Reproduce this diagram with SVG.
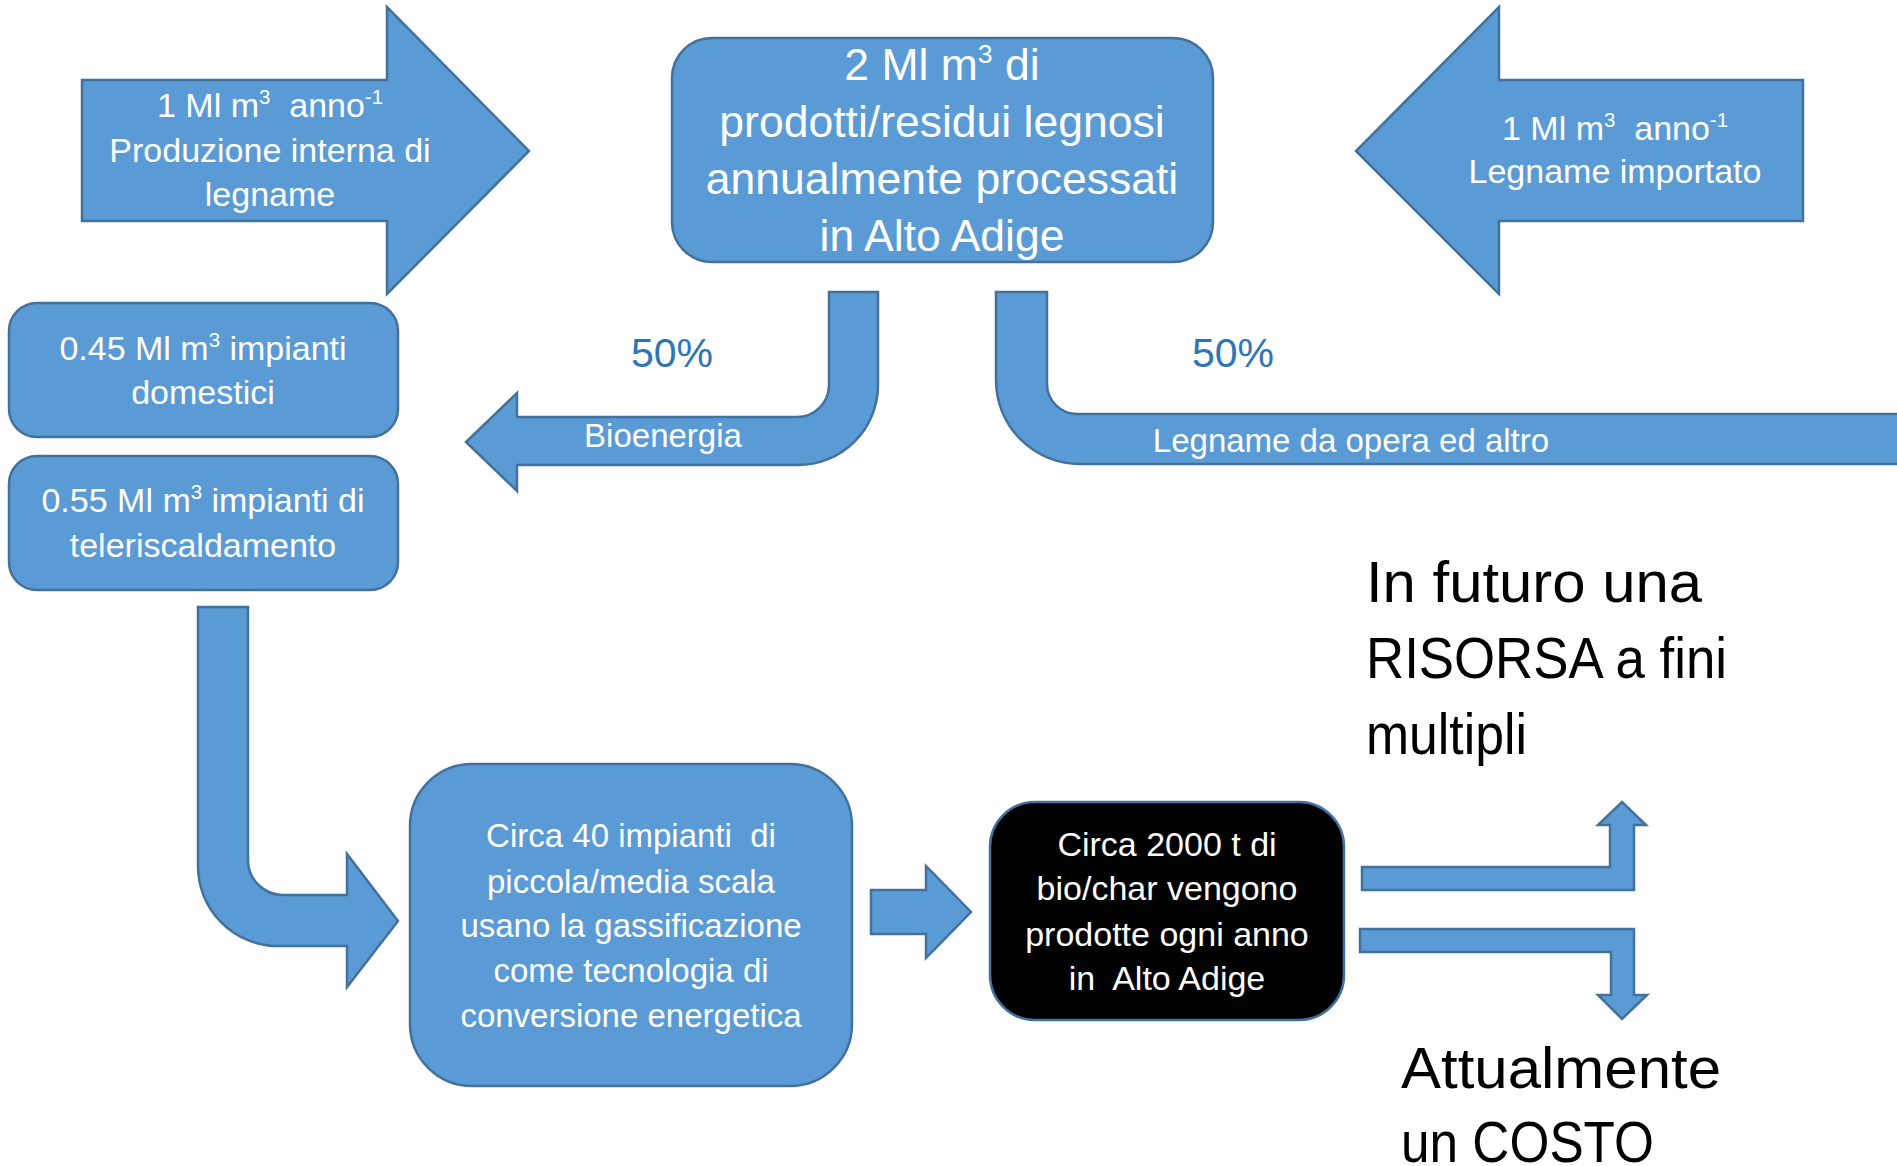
<svg xmlns="http://www.w3.org/2000/svg" width="1897" height="1166" viewBox="0 0 1897 1166">
<style>
.shape{fill:#5B9BD5;stroke:#41719C;stroke-width:2.5;stroke-linejoin:miter}
.dark{fill:#000000;stroke:#41719C;stroke-width:2.5}
text{font-family:"Liberation Sans",Arial,sans-serif;text-anchor:middle;white-space:pre}
.w{fill:#FFFFFF}
.t34{font-size:34px}
.t33{font-size:33px}
.t44{font-size:44.5px}
.pct{font-size:41px;fill:#2E75B6}
.big{font-size:57px;fill:#000000;text-anchor:start}
.sup{font-size:60%}
</style>
<rect width="1897" height="1166" fill="#FFFFFF"/>

<g id="arrow-internal">
<path class="shape" d="M82,80 H387 V7 L529,151 L387,294 V221 H82 Z"/>
<text class="w t34"><tspan x="270" y="117">1 Ml m<tspan class="sup" dy="-13">3</tspan><tspan dy="13">  anno</tspan><tspan class="sup" dy="-13">-1</tspan></tspan><tspan x="270" y="162">Produzione interna di</tspan><tspan x="270" y="206">legname</tspan></text>
</g>

<g id="central-box">
<rect class="shape" x="672" y="38" width="541" height="224" rx="40" ry="40"/>
<text class="w t44"><tspan x="942" y="80">2 Ml m<tspan class="sup" dy="-17">3</tspan><tspan dy="17"> di</tspan></tspan><tspan x="942" y="137">prodotti/residui legnosi</tspan><tspan x="942" y="194">annualmente processati</tspan><tspan x="942" y="251">in Alto Adige</tspan></text>
</g>

<g id="arrow-imported">
<path class="shape" d="M1803,80 H1499 V7 L1356,151 L1499,294 V221 H1803 Z"/>
<text class="w t34"><tspan x="1615" y="140">1 Ml m<tspan class="sup" dy="-13">3</tspan><tspan dy="13">  anno</tspan><tspan class="sup" dy="-13">-1</tspan></tspan><tspan x="1615" y="183">Legname importato</tspan></text>
</g>

<g id="box-domestici">
<rect class="shape" x="9" y="303" width="389" height="134" rx="28" ry="28"/>
<text class="w t34"><tspan x="203" y="360">0.45 Ml m<tspan class="sup" dy="-13">3</tspan><tspan dy="13"> impianti</tspan></tspan><tspan x="203" y="404">domestici</tspan></text>
</g>

<g id="box-teleriscaldamento">
<rect class="shape" x="9" y="456" width="389" height="134" rx="28" ry="28"/>
<text class="w t34"><tspan x="203" y="512">0.55 Ml m<tspan class="sup" dy="-13">3</tspan><tspan dy="13"> impianti di</tspan></tspan><tspan x="203" y="557">teleriscaldamento</tspan></text>
</g>

<g id="box-gassificazione">
<rect class="shape" x="410" y="764" width="442" height="322" rx="62" ry="62"/>
<text class="w t33"><tspan x="631" y="847">Circa 40 impianti  di</tspan><tspan x="631" y="893">piccola/media scala</tspan><tspan x="631" y="937">usano la gassificazione</tspan><tspan x="631" y="982">come tecnologia di</tspan><tspan x="631" y="1027">conversione energetica</tspan></text>
</g>

<g id="box-biochar">
<rect class="dark" x="990" y="802" width="354" height="218" rx="45" ry="45"/>
<text class="w t34"><tspan x="1167" y="856">Circa 2000 t di</tspan><tspan x="1167" y="900">bio/char vengono</tspan><tspan x="1167" y="946">prodotte ogni anno</tspan><tspan x="1167" y="990">in  Alto Adige</tspan></text>
</g>

<g id="label-futuro">
<text class="big" x="1366" y="602" textLength="336" lengthAdjust="spacingAndGlyphs">In futuro una</text>
<text class="big" x="1366" y="678" textLength="361" lengthAdjust="spacingAndGlyphs">RISORSA a fini</text>
<text class="big" x="1366" y="754" textLength="161" lengthAdjust="spacingAndGlyphs">multipli</text>
</g>

<g id="label-costo">
<text class="big" x="1401" y="1088" textLength="320" lengthAdjust="spacingAndGlyphs">Attualmente</text>
<text class="big" x="1401" y="1162" textLength="253" lengthAdjust="spacingAndGlyphs">un COSTO</text>
</g>

<g id="connectors">
<g id="arrow-bioenergia">
<path class="shape" d="M829,292 H878 V385 A80,80 0 0 1 798,465 H517 V491 L466,442 L517,393 V417 H797 A32,32 0 0 0 829,385 Z"/>
<text class="w t33" x="663" y="447">Bioenergia</text>
<text class="pct" x="672" y="367">50%</text>
</g>
<g id="arrow-legname">
<path class="shape" d="M996,292 H1047 V384 A30,30 0 0 0 1077,414 H1902 V464 H1080 A84,84 0 0 1 996,380 Z"/>
<text class="w t33" x="1351" y="452">Legname da opera ed altro</text>
<text class="pct" x="1233" y="367">50%</text>
</g>
<path id="arrow-to-gassificazione" class="shape" d="M198,607 H248 V860 A35,35 0 0 0 283,895 H347 V854 L398,921 L347,987 V946 H278 A80,80 0 0 1 198,866 Z"/>
<path id="arrow-to-biochar" class="shape" d="M871,890 H926 V866 L971,912 L926,958 V934 H871 Z"/>
<path id="arrow-futuro" class="shape" d="M1362,867 H1610 V825 H1598 L1622,802 L1646,825 H1634 V890 H1362 Z"/>
<path id="arrow-costo" class="shape" d="M1360,929 H1634 V995 H1647 L1622,1019 L1598,995 H1611 V952 H1360 Z"/>
</g>
</svg>
